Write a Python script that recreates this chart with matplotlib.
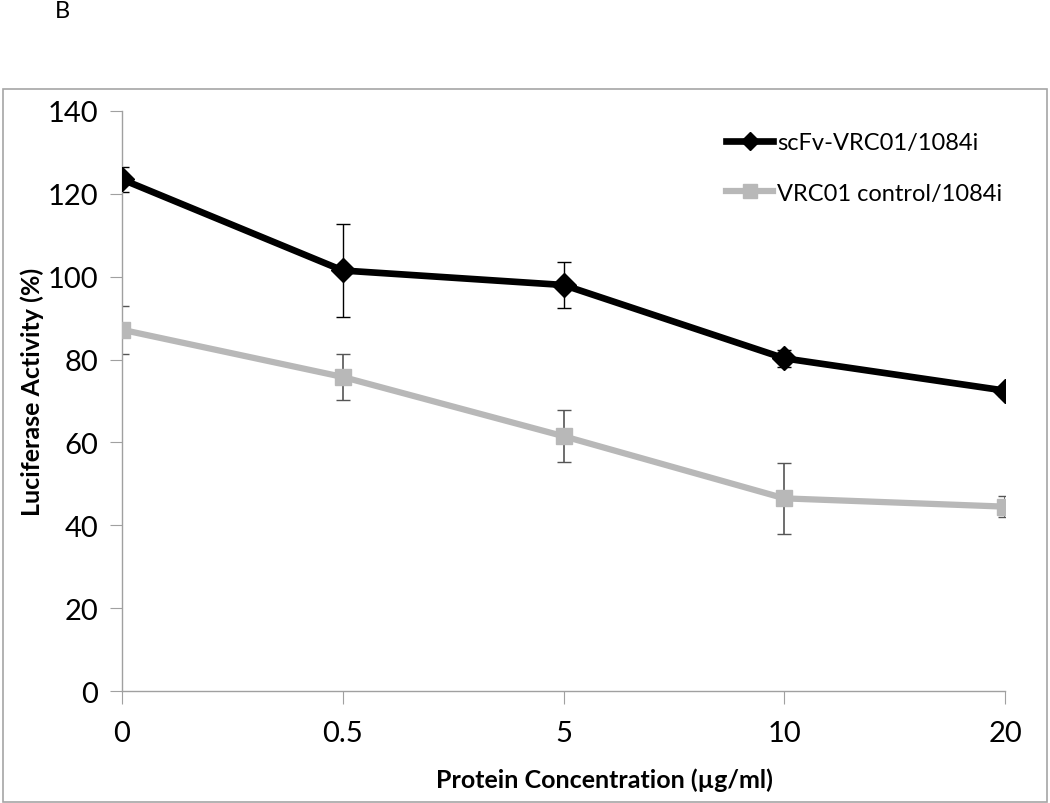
import matplotlib.pyplot as plt
from matplotlib.patches import Rectangle

plt.rcParams['font.family'] = ['Lato', 'DejaVu Sans']

conc_labels = ["0", "0.5", "5", "10", "20"]
scfv_mean = [123.5, 101.5, 98.0, 80.3, 72.5]
scfv_err = [3.0, 11.3, 5.6, 2.1, 1.2]
ctrl_mean = [87.2, 75.8, 61.5, 46.5, 44.5]
ctrl_err = [5.8, 5.6, 6.3, 8.6, 2.5]

x = list(range(len(conc_labels)))

fig = plt.figure(figsize=(10.5, 8.04), dpi=100)
ax = fig.add_axes([0.1162, 0.1393, 0.8410, 0.7214])

# outer chart frame like Excel
fig.patches.append(Rectangle((3 / 1050, 1 / 804), 1044 / 1050, 713 / 804,
                             transform=fig.transFigure, fill=False,
                             edgecolor="#a6a6a6", linewidth=1.2))
fig.text(55 / 1050, 1 - 11 / 804, "B", fontsize=17, va="center")

# error bars first, lines + markers on top
ax.errorbar(x, scfv_mean, yerr=scfv_err, fmt="none", ecolor="black",
            elinewidth=1, capsize=5, capthick=1, zorder=2)
ax.errorbar(x, ctrl_mean, yerr=ctrl_err, fmt="none", ecolor="#555555",
            elinewidth=1.2, capsize=5, capthick=1, zorder=1)
ax.plot(x, scfv_mean, color="black", linewidth=4.8, marker="D",
        markersize=12, label="scFv-VRC01/1084i", zorder=4)
ax.plot(x, ctrl_mean, color="#b8b8b8", linewidth=4.5, marker="s",
        markersize=12, label="VRC01 control/1084i", zorder=3)

ax.set_xlim(0, 4)
ax.set_ylim(0, 140)
ax.set_yticks(range(0, 141, 20))
ax.set_xticks(x)
ax.set_xticklabels(conc_labels)

for s in ["top", "right"]:
    ax.spines[s].set_visible(False)
for s in ["left", "bottom"]:
    ax.spines[s].set_color("#a0a0a0")
    ax.spines[s].set_linewidth(1)

ax.tick_params(axis="y", direction="out", length=9, color="#a0a0a0",
               labelsize=21, pad=8)
ax.tick_params(axis="x", direction="out", length=9, color="#a0a0a0",
               labelsize=21, pad=12)

ax.set_xlabel("Protein Concentration (\u00b5g/ml)", fontsize=18,
              fontweight="bold")
ax.set_ylabel("Luciferase Activity (%)", fontsize=18, fontweight="bold")
ax.xaxis.set_label_coords(0.546, -0.132)
ax.yaxis.set_label_coords(-0.088, 0.517)

ax.legend(loc="upper left", bbox_to_anchor=(0.66, 1.0), frameon=False,
          fontsize=17, handlelength=2.0, handletextpad=0.15,
          labelspacing=1.25, numpoints=1, markerscale=0.8)

fig.savefig("out.png", dpi=100)
